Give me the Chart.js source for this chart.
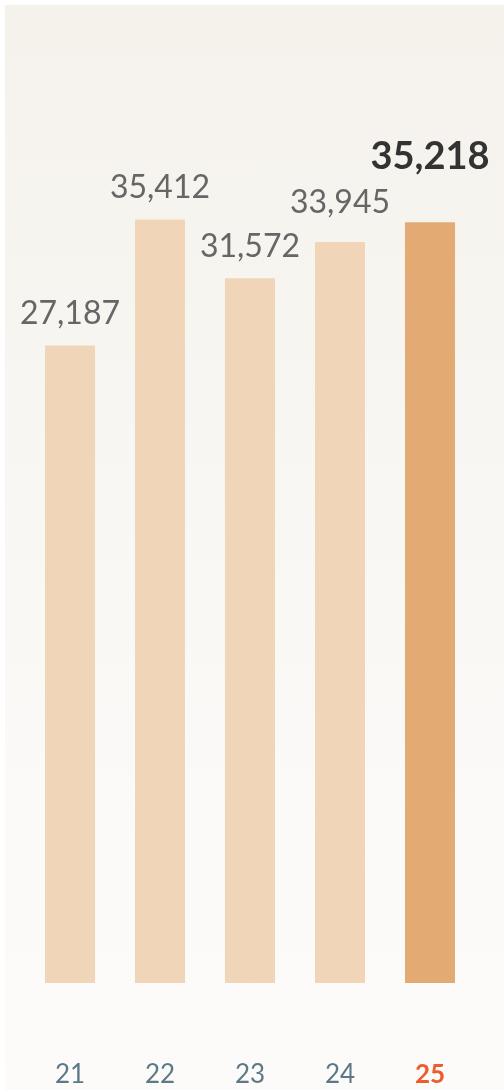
<!DOCTYPE html>
<html>
<head>
<meta charset="utf-8">
<script src="https://cdn.jsdelivr.net/npm/chart.js@4.4.1/dist/chart.umd.min.js"></script>
<style>
  html, body { margin: 0; padding: 0; background: #fff; }
  #panel {
    position: absolute; left: 5px; top: 5px; width: 499px; height: 1085px;
    background: linear-gradient(to bottom, #f5f2ec 0%, #fbfaf8 75%, #fcfbfa 100%);
  }
  #chart { display: block; }
</style>
</head>
<body>
<div id="panel"><canvas id="chart" width="499" height="1085"></canvas></div>
<script>
const years = ['21', '22', '23', '24', '25'];
const values = [27187, 35412, 31572, 33945, 35218];
const highlightIdx = 4;

const yMin = -14400;
const yMax = 43200;

const barColor = '#f0d5b8';
const barHot = '#e3ab73';
const FONT = 'Lato, "Open Sans", sans-serif';

// value labels above bars; a label that would hit an earlier one is lifted above it
const valueLabels = {
    id: 'valueLabels',
    afterDatasetsDraw(chart) {
        const ctx = chart.ctx;
        const bars = chart.getDatasetMeta(0).data;
        const placed = [];
        const gap = 20;
        ctx.save();
        ctx.textAlign = 'center';
        ctx.textBaseline = 'alphabetic';
        bars.forEach((bar, i) => {
            const hot = i === highlightIdx;
            ctx.font = hot ? `bold 38px ${FONT}` : `32px ${FONT}`;
            const txt = values[i].toLocaleString('en-US');
            const m = ctx.measureText(txt);
            const w = m.width, asc = m.actualBoundingBoxAscent;
            let base = bar.y - 21;
            let moved = true;
            while (moved) {
                moved = false;
                for (const p of placed) {
                    const hOver = bar.x - w / 2 < p.right && bar.x + w / 2 > p.left;
                    const vOver = base - asc < p.bottom + gap && base > p.top - gap;
                    if (hOver && vOver) { base = p.top - gap; moved = true; }
                }
            }
            ctx.fillStyle = hot ? '#333333' : '#666666';
            ctx.fillText(txt, bar.x, base);
            placed.push({ left: bar.x - w / 2, right: bar.x + w / 2, top: base - asc, bottom: base });
        });
        ctx.restore();
    }
};

new Chart(document.getElementById('chart'), {
    type: 'bar',
    data: {
        labels: years,
        datasets: [{
            data: values,
            base: yMin,
            backgroundColor: values.map((v, i) => i === highlightIdx ? barHot : barColor),
            borderWidth: 0,
            barPercentage: 0.556,
            categoryPercentage: 1
        }]
    },
    options: {
        responsive: false,
        animation: false,
        layout: { padding: { left: 20, right: 29, top: 95, bottom: 0 } },
        plugins: { legend: { display: false }, tooltip: { enabled: false } },
        scales: {
            x: {
                grid: { display: false, drawTicks: false },
                border: { display: false },
                afterFit: s => { s.height = 107; s.paddingLeft = 0; s.paddingRight = 0; },
                ticks: {
                    padding: 79,
                    font: ctx => ({ family: FONT, size: 26, lineHeight: 1, weight: ctx.index === highlightIdx ? 'bold' : 'normal' }),
                    color: ctx => ctx.index === highlightIdx ? '#ee5b2c' : '#5b7986'
                }
            },
            y: {
                display: false,
                min: yMin,
                max: yMax
            }
        }
    },
    plugins: [valueLabels]
});
</script>
</body>
</html>
